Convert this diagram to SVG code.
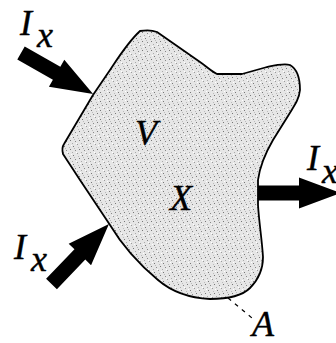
<svg xmlns="http://www.w3.org/2000/svg" width="336" height="343" viewBox="0 0 336 343">
<style>
.t{font-family:"Liberation Serif","Times New Roman",serif;font-style:italic;font-size:36px;fill:#000;stroke:#000;stroke-width:0.4}
.arrow{fill:#000}
</style>
<defs>
<pattern id="stip" width="9" height="9" patternUnits="userSpaceOnUse">
<rect width="9" height="9" fill="#e6e6e6"/>
<rect x="1" y="2" width="1" height="1" fill="#777"/>
<rect x="5" y="0" width="1" height="1" fill="#999"/>
<rect x="7" y="5" width="1" height="1" fill="#777"/>
<rect x="3" y="6" width="1" height="1" fill="#888"/>
<rect x="0" y="8" width="1" height="1" fill="#aaa"/>
<rect x="6" y="3" width="1" height="1" fill="#bbb"/>
<rect x="2" y="4" width="1" height="1" fill="#bbb"/>
<rect x="4" y="8" width="1" height="1" fill="#fff"/>
<rect x="8" y="1" width="1" height="1" fill="#fff"/>
</pattern>
<polygon id="arr" points="0,-7.5 41,-7.5 41,-15.5 83,0 41,15.5 41,7.5 0,7.5"/>
</defs>
<g id="volume">
<path d="M140,31 C146,30 152,30 157,32 L200,62 C206,66 211,71 217,74 L242,74 L267,67 C276,65 284,63 290,65 C297,69 300,78 300,90 C299,100 294,106 288,116 L273,140 C266,152 260,165 258,180 L258,205 C259,222 262,240 263,257 C263,270 258,280 250,288 C242,296 230,299 210,299 C190,298 172,292 158,280 C140,265 122,245 110,225 L80,180 L63,154 C62,150 62,147 64,144 L93,95 L110,70 C118,58 128,42 140,31 Z" fill="url(#stip)" stroke="#000" stroke-width="1.8" stroke-linejoin="round"/>
</g>
<g id="connectors">
<use href="#arr" class="arrow" transform="translate(21,53) rotate(29.7)"/>
<use href="#arr" class="arrow" transform="translate(258,193)"/>
<use href="#arr" class="arrow" transform="translate(51.5,284) rotate(-46.2)"/>
<line x1="228" y1="298" x2="252" y2="318" stroke="#000" stroke-width="1.2" stroke-dasharray="4,5"/>
</g>
<g id="labels">
<text class="t" x="20" y="35">I</text><text class="t" x="37" y="47">x</text>
<text class="t" x="307" y="170">I</text><text class="t" x="322" y="183">x</text>
<text class="t" x="14" y="259">I</text><text class="t" x="31" y="271">x</text>
<text class="t" x="135" y="145">V</text>
<text class="t" x="170" y="210">X</text>
<text class="t" x="252" y="336">A</text>
</g>
</svg>
